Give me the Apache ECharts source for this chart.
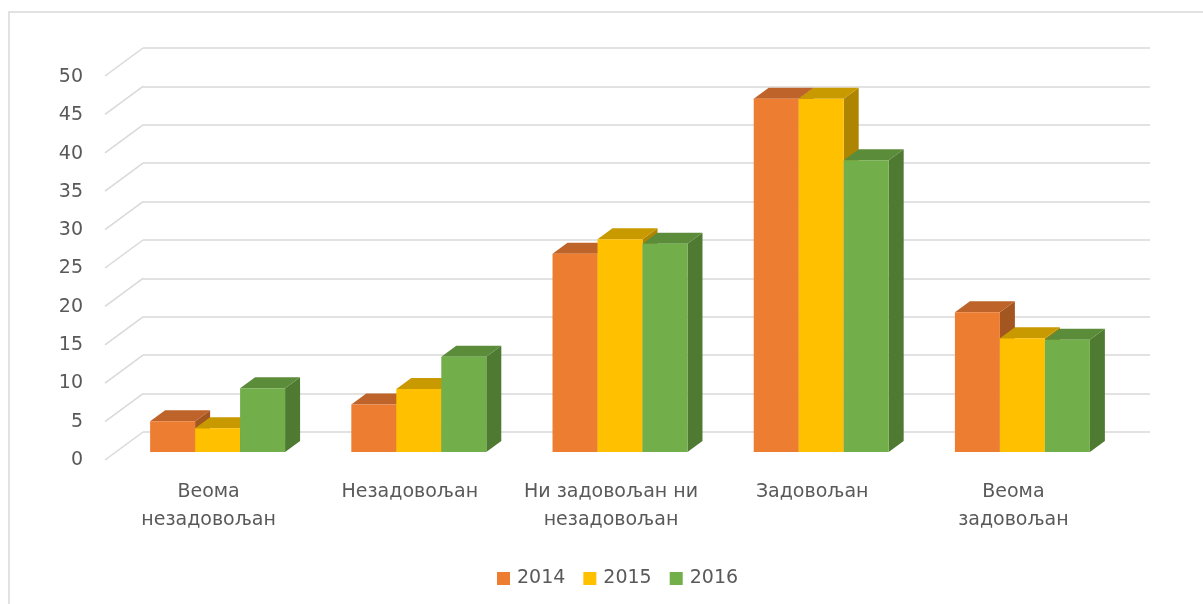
<!DOCTYPE html>
<html>
<head>
<meta charset="utf-8">
<script src="https://cdn.jsdelivr.net/npm/echarts@6/dist/echarts.min.js"></script>
<style>
  html, body { margin: 0; padding: 0; background: #fff; }
  #chart { width: 1203px; height: 604px; }
</style>
</head>
<body>
<div id="chart"></div>
<script>
'use strict';

// categories & values
var categories = ['Веома\nнезадовољан', 'Незадовољан', 'Ни задовољан ни\nнезадовољан', 'Задовољан', 'Веома\nзадовољан'];
var years = ['2014', '2015', '2016'];
var values2014 = [4.0, 6.2, 25.8, 46.0, 18.2];
var values2015 = [3.1, 8.2, 27.7, 46.0, 14.8];
var values2016 = [8.3, 12.4, 27.1, 38.0, 14.6];
var yTicks = [0, 5, 10, 15, 20, 25, 30, 35, 40, 45, 50];

// front / top / side shades for each year
var palette = [
    { front: '#ED7D31', top: '#BE632A', side: '#A3561F' },
    { front: '#FFC000', top: '#C99A00', side: '#AD8500' },
    { front: '#72AE49', top: '#5B8C3A', side: '#4F7A32' }
];

var FONT = 'DejaVu Sans';
var FONT_SIZE = 19;
var TEXT_COLOR = '#595959';
var GRID_COLOR = '#D9D9D9';
var DEPTH_X = 15, DEPTH_Y = -11;     // bar depth
var WALL_X = -38, WALL_Y = 28;       // back wall -> front edge

function makeBarSeries(name, data, idx) {
    var c = palette[idx];
    return {
        name: name,
        type: 'custom',
        xAxisIndex: 0,
        yAxisIndex: 0,
        itemStyle: { color: c.front },
        data: data.map(function (v, i) { return [i, v]; }),
        renderItem: function (params, api) {
            var cat = api.value(0), val = api.value(1);
            var base = api.coord([cat, 0]);
            var top = api.coord([cat, val]);
            var band = api.size([1, 0])[0];
            var w = band * 0.2236;
            var x0 = base[0] - 1.5 * w + idx * w;
            var yt = top[1], yb = base[1];
            return {
                type: 'group',
                children: [
                    {
                        type: 'polygon',
                        shape: { points: [[x0 + w, yt], [x0 + w + DEPTH_X, yt + DEPTH_Y], [x0 + w + DEPTH_X, yb + DEPTH_Y], [x0 + w, yb]] },
                        style: { fill: c.side }
                    },
                    {
                        type: 'polygon',
                        shape: { points: [[x0, yt], [x0 + w, yt], [x0 + w + DEPTH_X, yt + DEPTH_Y], [x0 + DEPTH_X, yt + DEPTH_Y]] },
                        style: { fill: c.top }
                    },
                    {
                        type: 'rect',
                        shape: { x: x0, y: yt, width: w, height: yb - yt },
                        style: { fill: c.front }
                    }
                ]
            };
        }
    };
}

var chart = echarts.init(document.getElementById('chart'), null, { renderer: 'canvas' });

var option = {
    backgroundColor: '#fff',
    animation: false,
    graphic: [{
        type: 'rect',
        shape: { x: 9, y: 12, width: 1220, height: 620 },
        style: { fill: 'none', stroke: GRID_COLOR, lineWidth: 1.5 },
        silent: true
    }],
    legend: {
        data: years,
        top: 564,
        left: 492,
        icon: 'rect',
        itemWidth: 13,
        itemHeight: 13,
        itemGap: 18,
        textStyle: { fontFamily: FONT, fontSize: FONT_SIZE, color: TEXT_COLOR, padding: [0, 0, 0, 2] }
    },
    grid: [
        // bar plane
        { left: 117, top: 68, width: 1006, height: 384 },
        // back wall
        { left: 143, top: 48, width: 1007, height: 384 },
        // front edge, for tick labels
        { left: 105, top: 77, width: 10, height: 383 }
    ],
    xAxis: [
        {
            gridIndex: 0,
            type: 'category',
            data: categories,
            axisLine: { show: false },
            axisTick: { show: false },
            axisLabel: {
                interval: 0,
                margin: 26,
                lineHeight: 28,
                padding: [0, 18, 0, 0],
                fontFamily: FONT, fontSize: FONT_SIZE, color: TEXT_COLOR
            }
        },
        { gridIndex: 1, type: 'value', min: 0, max: 1, show: false },
        { gridIndex: 2, type: 'value', min: 0, max: 1, show: false }
    ],
    yAxis: [
        { gridIndex: 0, type: 'value', min: 0, max: 50, interval: 5, show: false },
        {
            gridIndex: 1, type: 'value', min: 0, max: 50, interval: 5,
            axisLine: { show: false }, axisTick: { show: false }, axisLabel: { show: false },
            splitLine: { lineStyle: { color: GRID_COLOR, width: 1.5 } }
        },
        {
            gridIndex: 2, type: 'value', min: 0, max: 50, interval: 5,
            axisLine: { show: false }, axisTick: { show: false }, splitLine: { show: false },
            axisLabel: { margin: 22, fontFamily: FONT, fontSize: FONT_SIZE, color: TEXT_COLOR }
        }
    ],
    series: [
        // slanted side-wall gridlines
        {
            type: 'custom',
            xAxisIndex: 1,
            yAxisIndex: 1,
            silent: true,
            data: yTicks.map(function (t) { return [0, t]; }),
            renderItem: function (params, api) {
                var p = api.coord([0, api.value(1)]);
                return {
                    type: 'line',
                    shape: { x1: p[0], y1: p[1], x2: p[0] + WALL_X, y2: p[1] + WALL_Y },
                    style: { stroke: GRID_COLOR, lineWidth: 1.5 }
                };
            }
        },
        makeBarSeries(years[0], values2014, 0),
        makeBarSeries(years[1], values2015, 1),
        makeBarSeries(years[2], values2016, 2)
    ]
};

chart.setOption(option);
</script>
</body>
</html>
